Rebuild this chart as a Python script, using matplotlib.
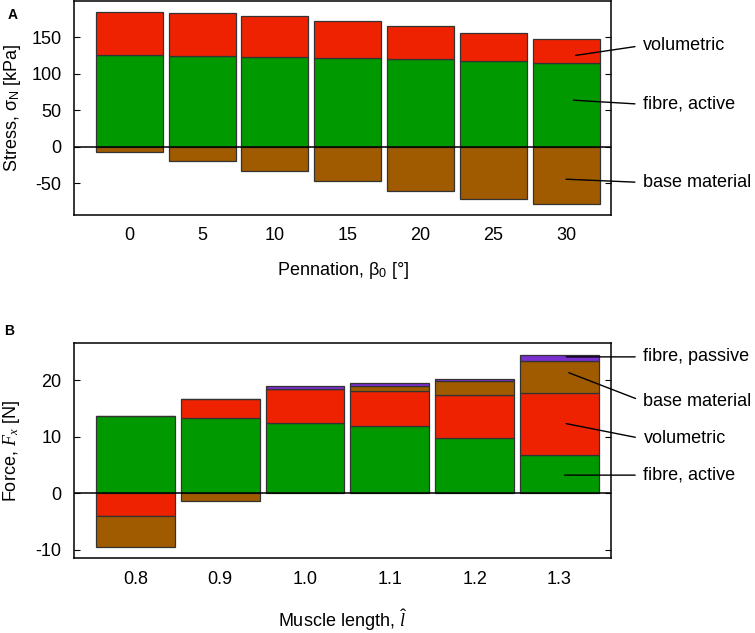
import numpy as np
import matplotlib.pyplot as plt

plt.rcParams['font.family'] = ['Liberation Sans', 'DejaVu Sans']
plt.rcParams['mathtext.fontset'] = 'custom'
plt.rcParams['mathtext.it'] = 'Liberation Serif:italic'
plt.rcParams['mathtext.rm'] = 'Liberation Sans'

# Panel A: stress vs pennation angle
pennation = ['0', '5', '10', '15', '20', '25', '30']
a_active = [125, 124.5, 123.2, 121.8, 119.5, 116.7, 114]
a_volumetric = [59.6, 58.2, 55.8, 50.5, 45.1, 39.3, 32.9]
a_base = [-7.7, -19, -33.6, -47.3, -60, -71.8, -79]

# Panel B: force vs muscle length
length = ['0.8', '0.9', '1.0', '1.1', '1.2', '1.3']
b_active = [13.7, 13.3, 12.4, 11.8, 9.73, 6.72]
b_volumetric = [-4.07, 3.4, 6.0, 6.25, 7.62, 11.0]
b_base = [-5.5, -1.36, 0.1, 0.95, 2.45, 5.7]
b_passive = [0.0, 0.0, 0.5, 0.5, 0.4, 1.1]

green = '#009900'
red = '#ee2200'
brown = '#a05a00'
purple = '#7a2fd0'
edge = '#333333'
fs = 13


def stack(ax, x, series, colors, width):
    pos = np.zeros(len(x))
    neg = np.zeros(len(x))
    for vals, c in zip(series, colors):
        vals = np.array(vals, dtype=float)
        bottom = np.where(vals >= 0, pos, neg)
        ax.bar(x, vals, width, bottom=bottom, color=c, edgecolor=edge, linewidth=0.9, zorder=2)
        pos = np.where(vals >= 0, pos + vals, pos)
        neg = np.where(vals < 0, neg + vals, neg)


def style(ax):
    for s in ax.spines.values():
        s.set_linewidth(1.1)
    ax.axhline(0, color='black', linewidth=1.1, zorder=3)
    ax.tick_params(axis='x', length=0, labelsize=fs, pad=9)
    ax.tick_params(axis='y', direction='in', length=4, labelsize=fs, right=True, pad=9)


fig = plt.figure(figsize=(7.55, 6.33), dpi=100)

# Panel A
axA = fig.add_axes([74 / 755, 1 - 215 / 633, 537 / 755, 214 / 633])
xA = np.arange(len(pennation))
stack(axA, xA, [a_active, a_volumetric, a_base], [green, red, brown], 0.92)
axA.set_xlim(-0.759, 6.617)
axA.set_ylim(-93.5, 199.5)
axA.set_yticks([-50, 0, 50, 100, 150])
axA.set_yticklabels(['-50', '0', '50', '100', '150'])
axA.set_xticks(xA)
axA.set_xticklabels(pennation)
style(axA)
axA.set_ylabel('Stress, σ$_\\mathrm{N}$ [kPa]', fontsize=fs, labelpad=6)
axA.set_xlabel('Pennation, β$_0$ [°]', fontsize=fs, labelpad=11)
fig.text(8 / 755, 1 - 19 / 633, 'A', fontsize=10, fontweight='bold')

a_labels = [('volumetric', 6.13, 125, 138.7),
            ('fibre, active', 6.1, 63.7, 58),
            ('base material', 6.0, -44.5, -49)]
for txt, x0, y0, y1 in a_labels:
    axA.annotate(txt, xy=(x0, y0), xytext=(7.06, y1), annotation_clip=False,
                 fontsize=fs, va='center', ha='left',
                 arrowprops=dict(arrowstyle='-', color='black', lw=1.0, shrinkA=4, shrinkB=0,
                                 relpos=(0, 0.5)))

# Panel B
axB = fig.add_axes([74 / 755, 1 - 558.3 / 633, 537 / 755, 215 / 633])
xB = np.arange(len(length))
stack(axB, xB, [b_active, b_volumetric, b_base, b_passive], [green, red, brown, purple], 0.93)
axB.set_xlim(-0.722, 5.607)
axB.set_ylim(-11.5, 26.5)
axB.set_yticks([-10, 0, 10, 20])
axB.set_yticklabels(['-10', '0', '10', '20'])
axB.set_xticks(xB)
axB.set_xticklabels(length)
style(axB)
axB.set_ylabel('Force, $F_x$ [N]', fontsize=fs, labelpad=10)
axB.set_xlabel('Muscle length, $\\hat{l}$', fontsize=fs, labelpad=14)
fig.text(4 / 755, 1 - 335 / 633, 'B', fontsize=10, fontweight='bold')

b_labels = [('fibre, passive', 5.08, 24.1, 24.1),
            ('base material', 5.11, 21.3, 16.2),
            ('volumetric', 5.08, 12.3, 9.6),
            ('fibre, active', 5.06, 3.2, 3.2)]
for txt, x0, y0, y1 in b_labels:
    axB.annotate(txt, xy=(x0, y0), xytext=(5.99, y1), annotation_clip=False,
                 fontsize=fs, va='center', ha='left',
                 arrowprops=dict(arrowstyle='-', color='black', lw=1.0, shrinkA=4, shrinkB=0,
                                 relpos=(0, 0.5)))

fig.savefig('out.png', dpi=100)
